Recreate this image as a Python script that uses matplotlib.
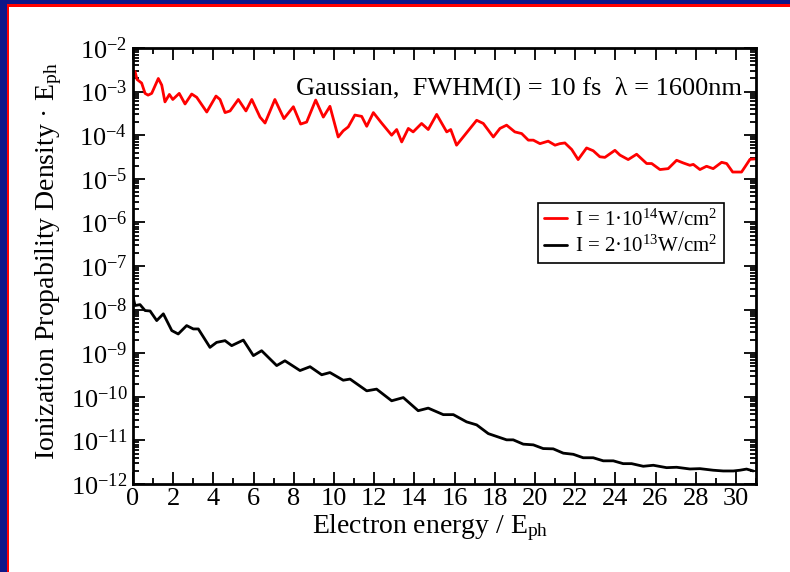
import matplotlib
matplotlib.use("Agg")
import matplotlib.pyplot as plt
from matplotlib.patches import Rectangle
from matplotlib.ticker import LogLocator, FuncFormatter, MultipleLocator
import numpy as np

plt.rcParams['font.family'] = ['Liberation Serif', 'DejaVu Serif']
plt.rcParams['mathtext.fontset'] = 'custom'
plt.rcParams['mathtext.rm'] = 'Liberation Serif'
plt.rcParams['mathtext.it'] = 'Liberation Serif:italic'

# I = 1e14 W/cm^2
energy_hi = [0, 0.1, 0.2, 0.43, 0.60, 0.75, 0.93, 1.26, 1.43, 1.59,
             1.81, 1.98, 2.30, 2.59, 2.92, 3.17, 3.67, 4.13, 4.33, 4.58,
             4.83, 5.24, 5.62, 5.91, 6.32, 6.57, 7.06, 7.51, 7.98, 8.34,
             8.64, 9.09, 9.47, 9.80, 10.21, 10.46, 10.71, 11.04, 11.38, 11.63,
             11.96, 12.37, 12.87, 13.12, 13.37, 13.70, 13.94, 14.36, 14.69, 15.11,
             15.61, 15.81, 16.10, 16.43, 17.10, 17.43, 17.93, 18.26, 18.59, 19.00,
             19.34, 19.67, 19.92, 20.25, 20.66, 21.00, 21.24, 21.49, 21.83, 22.15,
             22.57, 22.90, 23.23, 23.48, 23.98, 24.23, 24.64, 25.06, 25.56, 25.81,
             26.22, 26.63, 27.05, 27.38, 27.71, 27.88, 28.21, 28.54, 28.87, 29.29,
             29.54, 29.84, 30.28, 30.45, 30.70, 30.95]
dens_hi = [2.2e-3, 2.9e-3, 1.9e-3, 1.57e-3, 9.1e-4, 8.3e-4, 9.1e-4, 2.0e-3, 1.41e-3, 5.8e-4,
           8.6e-4, 6.6e-4, 9.1e-4, 5.2e-4, 8.8e-4, 7.4e-4, 3.4e-4, 7.9e-4, 6.6e-4, 3.3e-4,
           3.6e-4, 6.6e-4, 3.6e-4, 6.6e-4, 2.6e-4, 1.9e-4, 6.6e-4, 2.4e-4, 4.5e-4, 1.8e-4,
           2.0e-4, 6.4e-4, 2.6e-4, 4.6e-4, 9.1e-5, 1.26e-4, 1.55e-4, 2.9e-4, 2.7e-4, 1.6e-4,
           3.3e-4, 1.9e-4, 1.0e-4, 1.35e-4, 7.0e-5, 1.43e-4, 1.19e-4, 1.86e-4, 1.35e-4, 3.0e-4,
           1.19e-4, 1.35e-4, 5.9e-5, 9.1e-5, 2.2e-4, 1.86e-4, 9.1e-5, 1.43e-4, 1.7e-4, 1.19e-4,
           1.09e-4, 7.7e-5, 7.7e-5, 6.4e-5, 7.3e-5, 5.9e-5, 6.4e-5, 6.65e-5, 4.7e-5, 2.76e-5,
           5.1e-5, 4.4e-5, 3.2e-5, 3.1e-5, 4.5e-5, 3.5e-5, 2.76e-5, 3.66e-5, 2.24e-5, 2.24e-5,
           1.63e-5, 1.71e-5, 2.66e-5, 2.31e-5, 2.04e-5, 2.14e-5, 1.63e-5, 1.94e-5, 1.71e-5, 2.39e-5,
           2.24e-5, 1.43e-5, 1.43e-5, 1.87e-5, 2.8e-5, 2.86e-5]

# I = 2e13 W/cm^2
energy_lo = [0, 0.1, 0.35, 0.60, 0.85, 1.18, 1.51, 1.93, 2.25, 2.67,
             3.00, 3.25, 3.83, 4.16, 4.58, 4.91, 5.49, 5.99, 6.40, 7.15,
             7.56, 8.31, 8.81, 9.39, 9.80, 10.46, 10.80, 11.63, 12.12, 12.87,
             13.45, 14.19, 14.69, 15.44, 15.94, 16.60, 17.10, 17.68, 18.59, 18.92,
             19.42, 19.92, 20.41, 20.91, 21.41, 21.91, 22.40, 22.90, 23.40, 23.90,
             24.39, 24.81, 25.39, 25.89, 26.55, 27.05, 27.71, 28.21, 28.87, 29.37,
             29.87, 30.20, 30.53, 30.86]
dens_lo = [2.0e-8, 1.24e-8, 1.30e-8, 9.5e-9, 9.3e-9, 5.6e-9, 8.0e-9, 3.3e-9, 2.76e-9, 4.3e-9,
           3.6e-9, 3.6e-9, 1.36e-9, 1.77e-9, 1.94e-9, 1.49e-9, 2.0e-9, 8.8e-10, 1.14e-9, 5.2e-10,
           6.7e-10, 4.0e-10, 4.9e-10, 3.2e-10, 3.6e-10, 2.4e-10, 2.55e-10, 1.37e-10, 1.5e-10, 8.1e-11,
           9.6e-11, 4.8e-11, 5.5e-11, 3.9e-11, 3.9e-11, 2.66e-11, 2.27e-11, 1.43e-11, 1.03e-11, 1.03e-11,
           8.2e-12, 7.9e-12, 6.5e-12, 6.4e-12, 5.1e-12, 4.8e-12, 4.0e-12, 4.0e-12, 3.4e-12, 3.4e-12,
           2.93e-12, 2.93e-12, 2.55e-12, 2.69e-12, 2.37e-12, 2.42e-12, 2.21e-12, 2.25e-12, 2.07e-12, 1.99e-12,
           1.99e-12, 2.07e-12, 2.2e-12, 1.99e-12]

fig = plt.figure(figsize=(7.9, 5.72), dpi=100)
ax = fig.add_axes([133/790, 1 - 484/572, 623/790, 436/572])

line_kw = dict(lw=2, solid_joinstyle='round', solid_capstyle='round')
ax.plot(energy_hi, dens_hi, color='#ff0000', label=r'I = 1·10$^{14}$W/cm$^{2}$', **line_kw)
ax.plot(energy_lo, dens_lo, color='black', label=r'I = 2·10$^{13}$W/cm$^{2}$', **line_kw)

ax.set_yscale('log')
ax.set_xlim(0, 31)
ax.set_ylim(1e-12, 1e-2)

ax.xaxis.set_major_locator(MultipleLocator(2))
ax.xaxis.set_minor_locator(MultipleLocator(1))
ax.yaxis.set_major_locator(LogLocator(base=10, numticks=20))
ax.yaxis.set_minor_locator(LogLocator(base=10, subs=np.arange(2, 10), numticks=20))
ax.yaxis.set_major_formatter(FuncFormatter(lambda v, p: r'$\mathregular{10^{%d}}$' % round(np.log10(v))))

ax.tick_params(which='both', direction='in', top=True, right=True, labelsize=19, width=1.3)
ax.tick_params(which='major', length=8.5)
ax.tick_params(which='minor', length=4.3)
ax.tick_params(axis='x', pad=3)
ax.tick_params(axis='y', pad=4)
for s in ax.spines.values():
    s.set_linewidth(2)

ax.set_xlabel(r'Electron energy / E$_{\mathregular{ph}}$', fontsize=20)
ax.set_ylabel(r'Ionization Propability Density · E$_{\mathregular{ph}}$', fontsize=20)
ax.xaxis.set_label_coords(0.477, -0.066)
ax.yaxis.set_label_coords(-0.136, 0.51)
ax.yaxis.label.set_va('center')

ax.text(0.9775, 0.908, 'Gaussian,  FWHM(I) = 10 fs  λ = 1600nm', transform=ax.transAxes,
        ha='right', va='center', fontsize=19)

leg = ax.legend(loc='upper right', bbox_to_anchor=(0.9486, 0.6445), borderaxespad=0,
                fancybox=False, edgecolor='black', framealpha=1, fontsize=15,
                handlelength=1.1, handletextpad=0.4, borderpad=0.3, labelspacing=0.25)
leg.get_frame().set_linewidth(1.2)

# window border
blue = '#0c1689'
fig.add_artist(Rectangle((0, 0), 7/790, 1, transform=fig.transFigure, color=blue, lw=0))
fig.add_artist(Rectangle((0, 1 - 4.5/572), 1, 4.5/572, transform=fig.transFigure, color=blue, lw=0))
fig.add_artist(Rectangle((7/790, 0), 2/790, 1 - 4.5/572, transform=fig.transFigure, color='#ff0000', lw=0))
fig.add_artist(Rectangle((7/790, 1 - 6.5/572), 1, 2/572, transform=fig.transFigure, color='#ff0000', lw=0))

fig.savefig('out.png', dpi=100)
